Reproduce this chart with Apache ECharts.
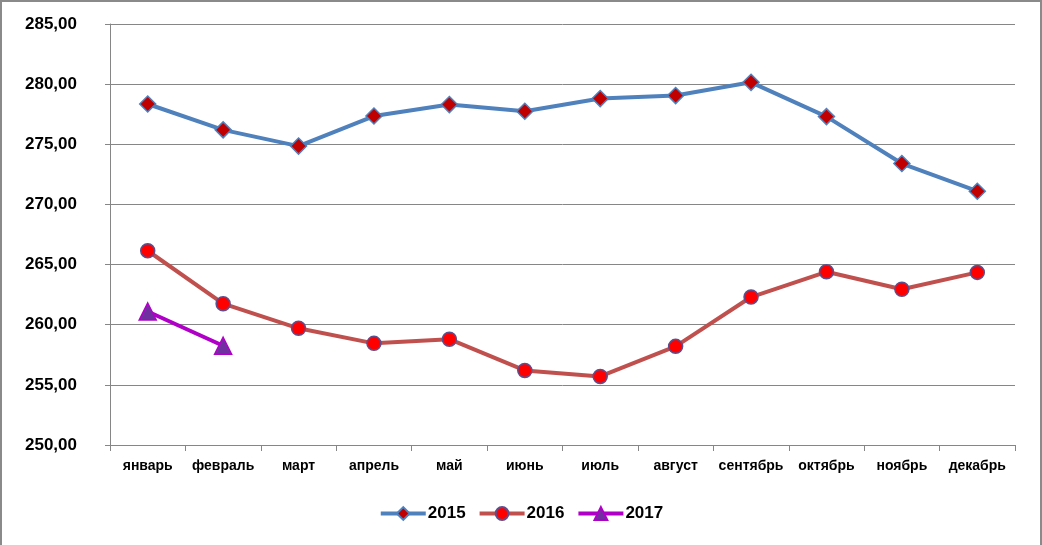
<!DOCTYPE html>
<html><head><meta charset="utf-8">
<script src="https://cdn.jsdelivr.net/npm/echarts@6/dist/echarts.min.js"></script>
<style>
html,body{margin:0;padding:0;background:#fff;}
#c{width:1042px;height:545px;box-sizing:border-box;border:2px solid #8a8a8a;border-bottom:none;}
</style></head><body>
<div id="c"></div>
<script>
const categories = ['январь','февраль','март','апрель','май','июнь','июль','август','сентябрь','октябрь','ноябрь','декабрь'];
const s2015 = [278.35, 276.2, 274.85, 277.35, 278.3, 277.75, 278.8, 279.05, 280.15, 277.3, 273.4, 271.1];
const s2016 = [266.15, 261.75, 259.7, 258.45, 258.8, 256.2, 255.7, 258.2, 262.3, 264.4, 262.95, 264.35];
const s2017 = [261.1, 258.25];
const yTicks = {min: 250, max: 285, interval: 5};

const chart = echarts.init(document.getElementById('c'));
const font = 'Liberation Sans, Arial, sans-serif';
chart.setOption({
  animation: false,
  grid: {left: 108, right: 25, top: 22, bottom: 100},
  legend: {
    bottom: 18, left: 'center', itemWidth: 45, itemHeight: 16, itemGap: 12,
    textStyle: {fontFamily: font, fontWeight: 'bold', fontSize: 17, color: '#000', padding: [0,0,0,-3]},
    lineStyle: {width: 4},
    data: ['2015','2016','2017']
  },
  xAxis: {
    type: 'category', data: categories, boundaryGap: true,
    axisLine: {lineStyle: {color: '#868686', width: 1}},
    axisTick: {show: true, length: 6, lineStyle: {color: '#868686'}},
    axisLabel: {fontFamily: font, fontWeight: 'bold', fontSize: 14, color: '#000', margin: 14, interval: 0}
  },
  yAxis: {
    type: 'value', min: yTicks.min, max: yTicks.max, interval: yTicks.interval,
    axisLine: {show: true, lineStyle: {color: '#868686', width: 1}},
    axisTick: {show: true, length: 5, lineStyle: {color: '#868686'}},
    splitLine: {lineStyle: {color: '#868686', width: 1}},
    axisLabel: {fontFamily: font, fontWeight: 'bold', fontSize: 17, color: '#000', margin: 33,
      formatter: v => v.toFixed(2).replace('.', ',')}
  },
  series: [
    {name: '2015', type: 'line', data: s2015, symbol: 'diamond', symbolSize: 16,
     lineStyle: {color: '#4F81BD', width: 4},
     itemStyle: {color: '#C00000', borderColor: '#4F81BD', borderWidth: 1.5}},
    {name: '2016', type: 'line', data: s2016, symbol: 'circle', symbolSize: 14,
     lineStyle: {color: '#C0504D', width: 4},
     itemStyle: {color: '#FF0000', borderColor: '#5B4F8E', borderWidth: 1.5}},
    {name: '2017', type: 'line', data: s2017, symbol: 'triangle', symbolSize: 17,
     lineStyle: {color: '#B000C8', width: 4},
     itemStyle: {color: '#7030A0', borderColor: '#B000C8', borderWidth: 1.5}}
  ]
});
</script>
</body></html>
